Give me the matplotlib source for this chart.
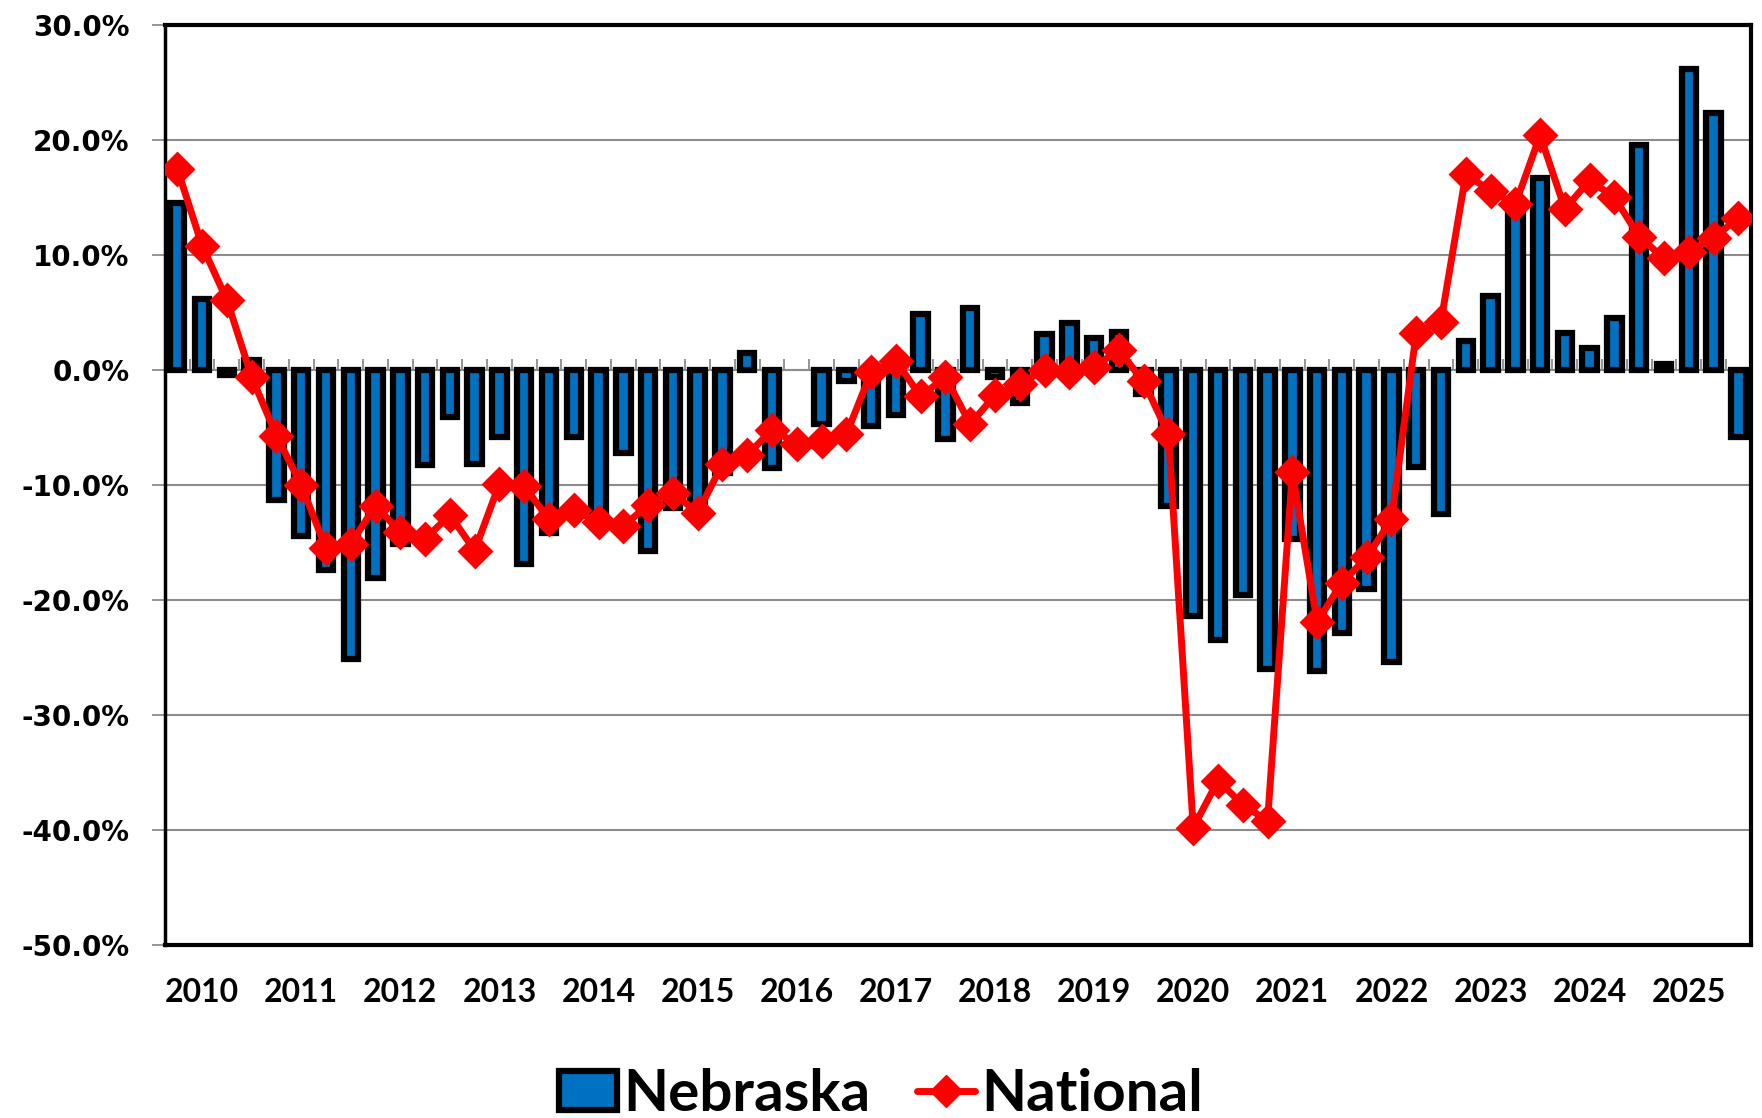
##
## === DEPENDENCIES
##

import matplotlib.pyplot as plt
import numpy
from matplotlib.lines import Line2D
from matplotlib.patches import Patch
from matplotlib.ticker import FuncFormatter, MultipleLocator

##
## === DATA
##

years = list(range(2010, 2026))
quarters_per_year = 4

# year-over-year change, percent, one value per quarter (2010 Q1 .. 2025 Q4)
# nan = no bar shown for that quarter
nebraska_pct = [
    14.5, 6.2, -0.4, 0.9,  # 2010
    -11.3, -14.4, -17.4, -25.1,  # 2011
    -18.1, -15.1, -8.3, -4.1,  # 2012
    -8.2, -5.8, -16.9, -14.2,  # 2013
    -5.8, -13.5, -7.2, -15.7,  # 2014
    -12.0, -12.0, -9.0, 1.5,  # 2015
    -8.5, float("nan"), -4.7, -1.0,  # 2016
    -4.9, -3.9, 4.9, -6.0,  # 2017
    5.4, -0.6, -2.9, 3.1,  # 2018
    4.1, 2.8, 3.3, -2.1,  # 2019
    -11.8, -21.4, -23.5, -19.6,  # 2020
    -26.0, -14.7, -26.2, -22.9,  # 2021
    -19.0, -25.4, -8.4, -12.5,  # 2022
    2.5, 6.4, 14.3, 16.7,  # 2023
    3.2, 1.9, 4.5, 19.6,  # 2024
    0.5, 26.2, 22.3, -5.8,  # 2025
]

national_pct = [
    17.5, 10.8, 6.1, -0.6,  # 2010
    -5.7, -10.0, -15.5, -15.1,  # 2011
    -11.8, -14.1, -14.7, -12.6,  # 2012
    -15.7, -9.9, -10.1, -13.0,  # 2013
    -12.2, -13.2, -13.6, -11.7,  # 2014
    -10.7, -12.4, -8.2, -7.4,  # 2015
    -5.2, -6.4, -6.2, -5.6,  # 2016
    -0.2, 0.8, -2.3, -0.6,  # 2017
    -4.7, -2.2, -1.2, 0.0,  # 2018
    -0.2, 0.3, 1.7, -1.0,  # 2019
    -5.6, -39.8, -35.7, -37.8,  # 2020
    -39.2, -8.9, -21.9, -18.5,  # 2021
    -16.3, -13.0, 3.2, 4.2,  # 2022
    17.0, 15.6, 14.4, 20.4,  # 2023
    14.0, 16.5, 15.0, 11.6,  # 2024
    9.7, 10.3, 11.5, 13.2,  # 2025
]

series_labels = ["Nebraska", "National"]
y_limits = (-50.0, 30.0)

BAR_BLUE = "#0070C0"
LINE_RED = "#FF0000"
GRID_GREY = "#8C8C8C"

##
## === MAIN
##


def main() -> None:
    n_quarters = len(nebraska_pct)
    x_values = numpy.arange(n_quarters)

    fig = plt.figure(figsize=(17.62, 11.18), dpi=100)
    ax = fig.add_axes([0.0936, 0.1547, 0.9, 0.823])

    ax.bar(
        x_values,
        nebraska_pct,
        width=0.58,
        color=BAR_BLUE,
        edgecolor="black",
        linewidth=4.5,
        zorder=2,
    )
    ax.plot(
        x_values,
        national_pct,
        color=LINE_RED,
        linewidth=5.0,
        marker="D",
        markersize=16,
        markeredgewidth=2,
        markeredgecolor=LINE_RED,
        solid_joinstyle="round",
        zorder=3,
    )

    ax.set_xlim(-0.5, n_quarters - 0.5)
    ax.set_ylim(*y_limits)

    # y axis
    ax.yaxis.set_major_locator(MultipleLocator(10))
    ax.yaxis.set_major_formatter(FuncFormatter(lambda v, _: f"{v:.1f}%"))
    ax.tick_params(
        axis="y",
        direction="out",
        length=9.5,
        width=1.3,
        color=GRID_GREY,
        pad=16,
        labelsize=20,
    )
    for label in ax.get_yticklabels():
        label.set_fontfamily("DejaVu Sans")
        label.set_fontweight("bold")
    ax.grid(axis="y", color=GRID_GREY, linewidth=1.5, zorder=0)
    ax.set_axisbelow(True)

    # year labels sit under the second quarter of every year
    year_ticks = [i * quarters_per_year + 1 for i in range(len(years))]
    ax.set_xticks(year_ticks)
    ax.set_xticklabels([str(y) for y in years])
    ax.tick_params(axis="x", length=0, pad=24, labelsize=23)
    for label in ax.get_xticklabels():
        label.set_fontfamily("Lato")
        label.set_fontweight("bold")

    # zero line with tick marks between quarters
    zero_frac = (0.0 - y_limits[0]) / (y_limits[1] - y_limits[0])
    zero_axis = ax.secondary_xaxis(zero_frac)
    zero_axis.set_xticks(numpy.arange(n_quarters + 1) - 0.5)
    zero_axis.tick_params(
        axis="x",
        direction="out",
        length=8,
        width=1.3,
        color=GRID_GREY,
        labelbottom=False,
        labeltop=False,
    )
    for spine in zero_axis.spines.values():
        spine.set_linewidth(1.5)
        spine.set_color(GRID_GREY)

    for spine in ax.spines.values():
        spine.set_color("black")
        spine.set_linewidth(3.0)
    ax.spines["left"].set_linewidth(2.5)

    handles = [
        Patch(facecolor=BAR_BLUE, edgecolor="black", linewidth=4.5),
        Line2D(
            [],
            [],
            color=LINE_RED,
            linewidth=5.0,
            marker="D",
            markersize=16,
            markeredgecolor=LINE_RED,
            solid_capstyle="round",
        ),
    ]
    fig.legend(
        handles,
        series_labels,
        loc="center",
        bbox_to_anchor=(0.5, 0.021),
        ncol=2,
        frameon=False,
        prop={"family": "Lato", "weight": "bold", "size": 42},
        handlelength=1.0,
        handleheight=0.65,
        handletextpad=0.1,
        columnspacing=0.8,
    )

    fig_name = "out.png"
    fig.savefig(fig_name, dpi=100)
    print(f"\t> saved: {fig_name}")


if __name__ == "__main__":
    main()
